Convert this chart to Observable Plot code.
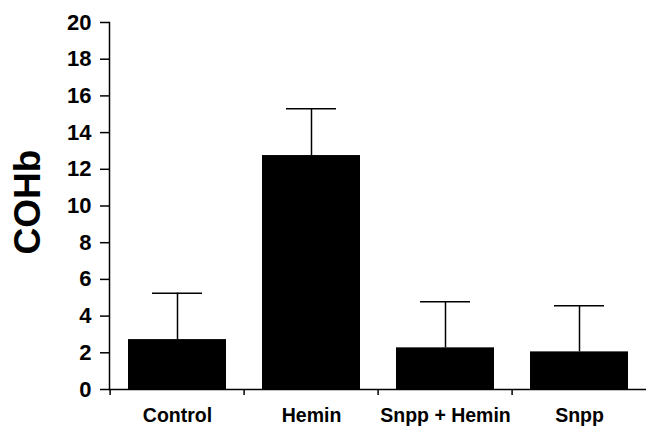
<!DOCTYPE html>
<html><head><meta charset="utf-8">
<script src="https://cdn.jsdelivr.net/npm/d3@7"></script>
<script src="https://cdn.jsdelivr.net/npm/@observablehq/plot@0.6"></script>
<style>body{margin:0;background:#fff}</style>
</head><body><div id="chart"></div>
<script>
const categories = ["Control", "Hemin", "Snpp + Hemin", "Snpp"];
const means = [2.72, 12.75, 2.27, 2.05];
const upper = [5.25, 15.30, 4.78, 4.56];
const yTicks = [0, 2, 4, 6, 8, 10, 12, 14, 16, 18, 20];
const yLabel = "COHb";

const data = categories.map((c, i) => ({group: c, mean: means[i], upper: upper[i]}));
const font = "'Liberation Sans', Arial, Helvetica, sans-serif";

const chart = Plot.plot({
  width: 646, height: 428,
  marginLeft: 109, marginRight: 0, marginTop: 22, marginBottom: 39,
  style: {fontFamily: font, fontWeight: "bold", background: "#fff", color: "#000"},
  x: {domain: categories, range: [108, 647], paddingInner: 0.27, paddingOuter: 0.135},
  y: {domain: [0, 20], ticks: yTicks},
  marks: [
    Plot.barY(data, {x: "group", y: "mean", fill: "#000"}),
    Plot.ruleX(data, {x: "group", y1: "mean", y2: "upper", stroke: "#000", strokeWidth: 1.5}),
    Plot.tickY(data, {x: "group", y: "upper", stroke: "#000", strokeWidth: 1.5, insetLeft: 24, insetRight: 24}),
    Plot.ruleY([0], {stroke: "#000", strokeWidth: 1.5}),
    Plot.frame({anchor: "left", stroke: "#000", strokeWidth: 1.5}),
    Plot.ruleX(categories, {x: d => d, y1: 0, y2: 0, insetBottom: -6, dx: -67.4, stroke: "#000", strokeWidth: 1.5}),
    Plot.axisY({ticks: yTicks, tickSize: 9, tickPadding: 9, fontSize: 22, label: null, strokeWidth: 1.5}),
    Plot.axisX({tickSize: 0, tickPadding: 19, fontSize: 19.5, label: null}),
    Plot.text([yLabel], {frameAnchor: "left", rotate: -90, textAnchor: "middle", lineAnchor: "top", dx: -96, dy: -4, fontSize: 37, fontWeight: "bold"})
  ]
});
document.getElementById("chart").append(chart);
</script>
</body></html>
